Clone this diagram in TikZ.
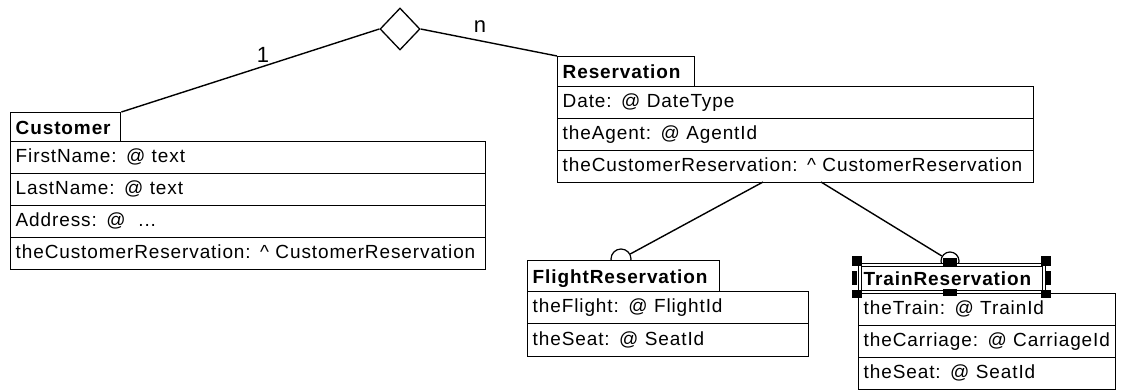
\documentclass[tikz,border=0pt]{standalone}
\usepackage{fontspec}
\setmainfont{Liberation Sans}[LetterSpace=4.7]
\usetikzlibrary{shapes.geometric}
\newcommand\umlfont{\fontsize{19pt}{22pt}\selectfont}
\begin{document}
\begin{tikzpicture}[x=1pt,y=-1pt,line width=1.4pt,
  cell/.style={draw, fill=white, anchor=north west, inner xsep=5pt, inner ysep=0pt,
    align=left, font=\umlfont, text height=14pt, text depth=4pt, minimum height=32pt},
  titlecell/.style={cell, font=\umlfont\bfseries, text height=14pt, text depth=0pt, minimum height=30pt},
  link/.style={draw, line width=1.4pt},
  lbl/.style={font=\fontsize{22pt}{24pt}\selectfont, inner sep=0pt},
  knob/.style={circle, draw, fill=white, inner sep=0pt, line width=1.2pt},
  handle/.style={fill=black, draw=none}]
\useasboundingbox (0,0) rectangle (1142,390);

% relationship diamond
\node[diamond, draw, line width=1.3pt, inner sep=0pt, minimum width=40pt, minimum height=42pt] (dia) at (400,29) {};

% anchors on the Reservation box for the inheritance links
\coordinate (r1) at (763,182);
\coordinate (r2) at (821,182);

% knobs (circles) above the subclasses
\node[knob, minimum size=20pt] (fc) at (621,259) {};
\node[knob, minimum size=18pt] (tc) at (950,261) {};

% Customer
\node[titlecell, text width=100pt, minimum height=29pt] (cust) at (10,112) {Customer};
\node[cell, text width=465pt] (c1) at (10,141) {FirstName: @ text};
\node[cell, text width=465pt] (c2) at (10,173) {LastName: @ text};
\node[cell, text width=465pt] (c3) at (10,205) {Address: @\ \ ...};
\node[cell, text width=465pt] (c4) at (10,237) {theCustomerReservation: \textasciicircum\ CustomerReservation};

% Reservation
\node[titlecell, text width=127pt] (res) at (557,56) {Reservation};
\node[cell, text width=466pt] (r1b) at (557,86) {Date: @ DateType};
\node[cell, text width=466pt] (r2b) at (557,118) {theAgent: @ AgentId};
\node[cell, text width=466pt] (r3b) at (557,150) {theCustomerReservation: \textasciicircum\ CustomerReservation};

% FlightReservation
\node[titlecell, text width=182pt, minimum height=31pt] (fr) at (527,260) {FlightReservation};
\node[cell, text width=271pt] (f1) at (527,291) {theFlight: @ FlightId};
\node[cell, text width=271pt, minimum height=33pt] (f2) at (527,323) {theSeat: @ SeatId};

% TrainReservation
\node[titlecell, text width=177pt] (tr) at (858,263) {TrainReservation};
\node[cell, text width=247pt] (t1) at (858,293) {theTrain: @ TrainId};
\node[cell, text width=247pt] (t2) at (858,325) {theCarriage: @ CarriageId};
\node[cell, text width=247pt] (t3) at (858,357) {theSeat: @ SeatId};

% connectors
\draw[link] (cust.north east) -- (dia.west);
\draw[link] (dia.east) -- (res.north west);
\draw[link] (r1) -- (fc);
\draw[link] (r2) -- (tc);

% multiplicities
\node[lbl] (m1) at (263,55) {1};
\node[lbl] (mn) at (480,27) {n};

% selection marks on TrainReservation
\draw[line width=0.6pt] (861,266) rectangle (1042,290);
\fill[handle] (852,256) rectangle (862,266);
\fill[handle] (852,271) rectangle (857,285);
\fill[handle] (852,290) rectangle (862,298);
\fill[handle] (943,258) rectangle (957,266);
\fill[handle] (943,289) rectangle (957,296);
\fill[handle] (1041,256) rectangle (1051,266);
\fill[handle] (1046,271) rectangle (1051,285);
\fill[handle] (1041,290) rectangle (1051,298);
\end{tikzpicture}
\end{document}
